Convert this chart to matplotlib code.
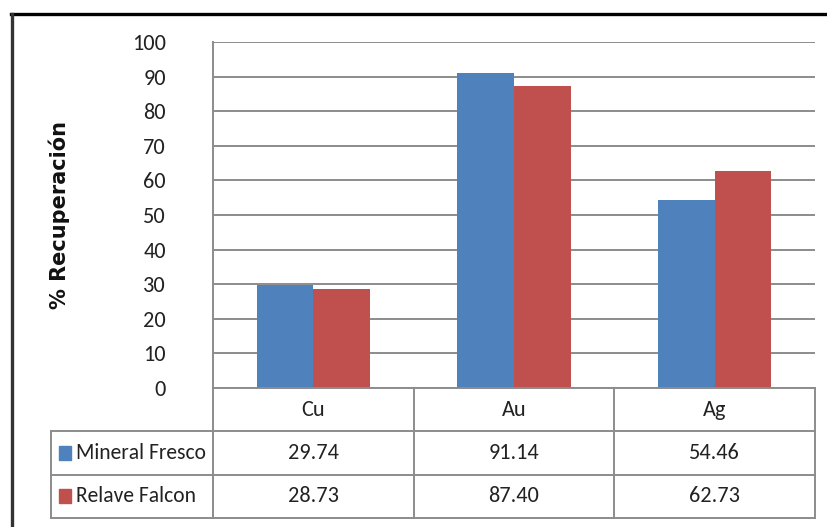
import matplotlib
matplotlib.use("Agg")
import matplotlib.pyplot as plt
from matplotlib.lines import Line2D
from matplotlib.patches import Rectangle

# Data
categories = ["Cu", "Au", "Ag"]
series_names = ["Mineral Fresco", "Relave Falcon"]
mineral_fresco = [29.74, 91.14, 54.46]
relave_falcon = [28.73, 87.40, 62.73]
y_ticks = [0, 10, 20, 30, 40, 50, 60, 70, 80, 90, 100]
y_label = "% Recuperación"

colors = ["#4F81BD", "#C0504D"]
grid_color = "#8C8C8C"
text_font = ["Carlito", "Liberation Sans Narrow", "Liberation Sans", "DejaVu Sans"]
fs = 16
W, H = 827, 527

fig = plt.figure(figsize=(W / 100, H / 100), dpi=100)
fig.patch.set_facecolor("white")


def fx(px):
    return px / W


def fy(py):
    return 1 - py / H


# Bar plot area
ax = fig.add_axes([fx(213), fy(388), fx(815) - fx(213), fy(42) - fy(388)])
x = list(range(len(categories)))
bw = 0.283
ax.bar([i - bw / 2 for i in x], mineral_fresco, width=bw, color=colors[0], zorder=3)
ax.bar([i + bw / 2 for i in x], relave_falcon, width=bw, color=colors[1], zorder=3)
ax.set_xlim(-0.5, len(categories) - 0.5)
ax.set_ylim(0, 100)
ax.set_yticks(y_ticks)
ax.set_yticklabels([str(t) for t in y_ticks], fontfamily=text_font, fontsize=fs, color="#222222")
ax.set_xticks([])
ax.tick_params(axis="y", length=0, pad=34)
ax.yaxis.grid(True, color=grid_color, linewidth=1.4, zorder=0)
for s in ["top", "right", "bottom"]:
    ax.spines[s].set_visible(False)
ax.spines["left"].set_color(grid_color)
ax.spines["left"].set_linewidth(1.4)
ax.set_facecolor("none")

fig.text(fx(59), fy(215), y_label, rotation=90, ha="center", va="center",
         fontsize=15, fontweight="bold", family="DejaVu Sans", color="#111111")

# Data table below the bars, sharing the category scale
left_x = (51 - 313.3) / 200.67
tax = fig.add_axes([fx(51), fy(518), fx(815) - fx(51), fy(388) - fy(518)])
tax.set_xlim(left_x, len(categories) - 0.5)
tax.set_ylim(3, 0)
tax.axis("off")
lw = 1.4
# horizontal lines
tax.plot([-0.5, len(categories) - 0.5], [0, 0], color=grid_color, lw=lw, clip_on=False)
for yy in [1, 2, 3]:
    tax.plot([left_x, len(categories) - 0.5], [yy, yy], color=grid_color, lw=lw, clip_on=False)
# vertical lines
tax.plot([left_x, left_x], [1, 3], color=grid_color, lw=lw, clip_on=False)
for i in range(len(categories) + 1):
    tax.plot([i - 0.5, i - 0.5], [0, 3], color=grid_color, lw=lw, clip_on=False)

for i, c in enumerate(categories):
    tax.text(i, 0.5, c, ha="center", va="center", fontsize=fs, family=text_font, color="#222222")
for r, (name, vals) in enumerate(zip(series_names, [mineral_fresco, relave_falcon])):
    yc = r + 1.5
    tax.add_patch(Rectangle((left_x + 8 / 200.67, yc - 0.16), 12 / 200.67, 0.32,
                            color=colors[r], clip_on=False))
    tax.text(left_x + 25 / 200.67, yc, name, ha="left", va="center", fontsize=15.5,
             family=text_font, color="#222222")
    for i, v in enumerate(vals):
        tax.text(i, yc, f"{v:.2f}", ha="center", va="center", fontsize=fs,
                 family=text_font, color="#222222")

# Outer frame (top and left edges)
fig.add_artist(Line2D([fx(11), fx(827)], [fy(14), fy(14)], color="black", lw=2.4))
fig.add_artist(Line2D([fx(12), fx(12)], [fy(14), fy(527)], color="#333333", lw=2.4))

fig.savefig("out.png", dpi=100, facecolor="white")
